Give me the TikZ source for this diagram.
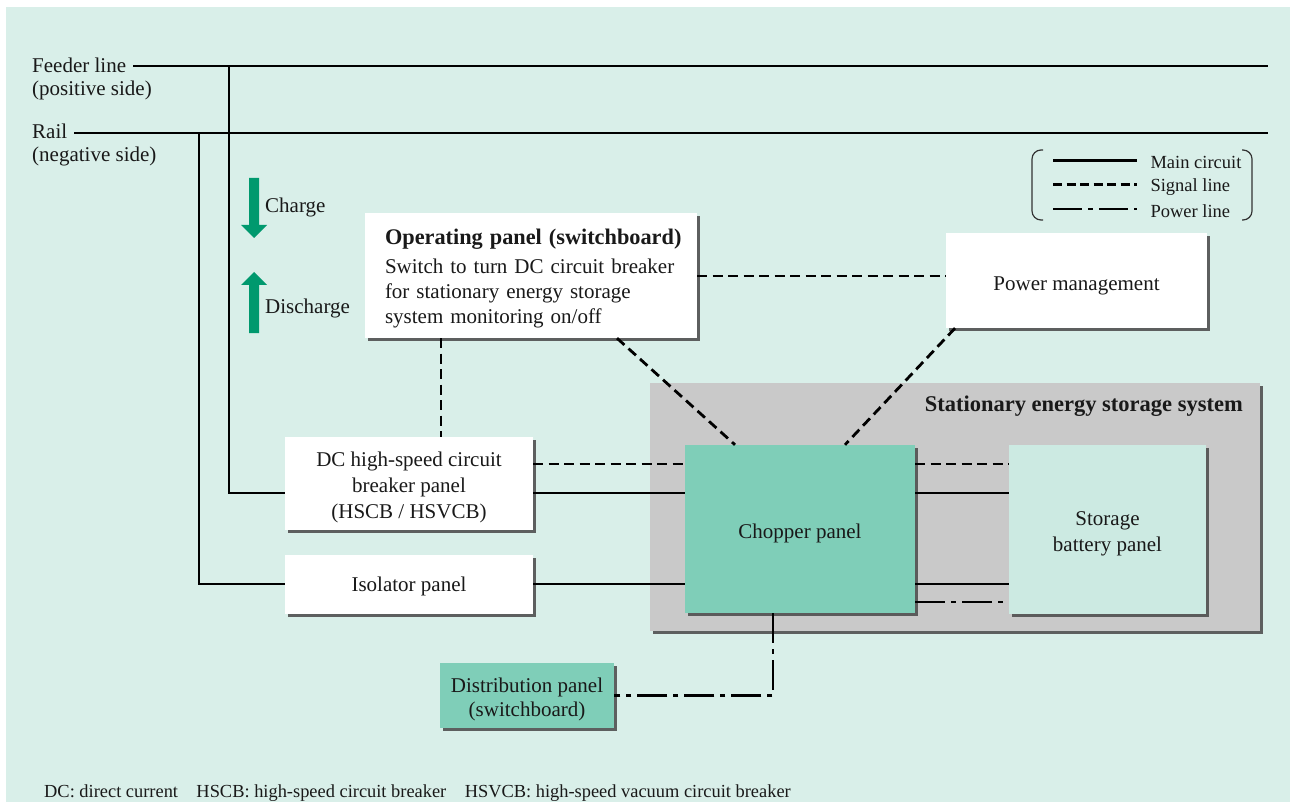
\documentclass[tikz,border=0pt]{standalone}
\usepackage{fontspec}
\setmainfont{Liberation Serif}
\usetikzlibrary{shadows,calc}
\definecolor{bgc}{HTML}{D9EFE9}
\definecolor{chopc}{HTML}{7FCEB8}
\definecolor{batc}{HTML}{CCEAE2}
\definecolor{grayc}{HTML}{C9C9C9}
\definecolor{arrc}{HTML}{00996E}
\definecolor{shc}{HTML}{505050}
\newcommand{\lowstrut}[1]{\rule{0pt}{#1}}
\begin{document}
\begin{tikzpicture}[x=1pt,y=-1pt,
  every node/.style={font=\fontsize{21}{25}\selectfont, text=black!90},
  panel/.style={draw=none, inner sep=0pt, align=center,
    drop shadow={shadow xshift=3pt, shadow yshift=-3pt, fill=shc, opacity=0.9}},
  main/.style={line width=2.8pt, black},
  sig/.style={line width=2.8pt, black, dash pattern=on 10pt off 5.5pt},
  pow/.style={line width=2.8pt, black, dash pattern=on 30pt off 6pt on 5pt off 6pt},
  legtxt/.style={font=\fontsize{18.5}{21}\selectfont, anchor=west},
  green arrow/.style={fill=arrc}
]
\useasboundingbox (0,0) rectangle (1290,802);
\fill[bgc] (6,7) rectangle (1290,802);

% labels of the lines
\node[anchor=base west, inner sep=0pt] (feedlbl) at (32,73) {Feeder line};
\node[anchor=base west, inner sep=0pt] (poslbl) at (32,96) {(positive side)};
\node[anchor=base west, inner sep=0pt] (raillbl) at (32,139) {Rail};
\node[anchor=base west, inner sep=0pt] (neglbl) at (32,162) {(negative side)};
\coordinate (feedA) at (133,66);
\coordinate (feedB) at (1268,66);
\coordinate (railA) at (74,133);
\coordinate (railB) at (1268,133);
\coordinate (tapF) at (229,66);
\coordinate (tapR) at (199,133);

% stationary energy storage system
\node[panel, fill=grayc, minimum width=610pt, minimum height=248pt] (sess) at (955,507) {};
\node[anchor=east, inner sep=0pt, font=\fontsize{22.5}{26}\selectfont\bfseries] (sesslbl) at (1243,406) {Stationary energy storage system};

% panels
\node[panel, fill=white, minimum width=332pt, minimum height=125pt, text width=292pt, inner xsep=20pt, align=left] (op) at (531,275.5)
  {\mbox{\lowstrut{22pt}\fontsize{22.3}{26}\selectfont\bfseries Operating panel (switchboard)}\\[4pt]Switch to turn DC circuit breaker\\for stationary energy storage\\system monitoring on/off};
\node[panel, fill=white, minimum width=261pt, minimum height=95pt] (pm) at (1076.5,280.5) {\lowstrut{24pt}Power management};
\node[panel, fill=chopc, minimum width=230pt, minimum height=168pt] (chop) at (800,529) {\lowstrut{23pt}Chopper panel};
\node[panel, fill=batc, minimum width=197pt, minimum height=169pt, font=\fontsize{21}{26}\selectfont] (bat) at (1107.5,529.5) {\lowstrut{22pt}Storage\\battery panel};
\node[panel, fill=white, minimum width=248pt, minimum height=93pt, font=\fontsize{21}{26}\selectfont] (hscb) at (409,483.5) {\lowstrut{23pt}DC high-speed circuit\\breaker panel\\(HSCB / HSVCB)};
\node[panel, fill=white, minimum width=248pt, minimum height=59pt] (iso) at (409,584.5) {\lowstrut{19pt}Isolator panel};
\node[panel, fill=chopc, minimum width=174pt, minimum height=65pt, font=\fontsize{21}{24}\selectfont] (dist) at (527,695.5) {\lowstrut{22pt}Distribution panel\\(switchboard)};

% main lines
\draw[main] (feedA) -- (feedB);
\draw[main] (railA) -- (railB);
\draw[main] (tapF) |- (hscb.west |- 0,493);
\draw[main] (tapR) |- (iso.west |- 0,584);
\draw[main] (hscb.east |- 0,493) -- (chop.west |- 0,493);
\draw[main] (iso.east |- 0,584) -- (chop.west |- 0,584);
\draw[main] (chop.east |- 0,493) -- (bat.west |- 0,493);
\draw[main] (chop.east |- 0,584) -- (bat.west |- 0,584);
% signal lines
\draw[sig] (hscb.east |- 0,464) -- (chop.west |- 0,464);
\draw[sig] (chop.east |- 0,464) -- (bat.west |- 0,464);
\draw[sig] (op.south -| 441,0) -- (hscb.north -| 441,0);
\draw[sig] (op.east |- 0,276) -- (pm.west |- 0,276);
\draw[sig] (op.south -| 617,0) -- (chop.north -| 735,0);
\draw[sig] (pm.south -| 955,0) -- (chop.north -| 845,0);
% power lines
\draw[pow] (chop.east |- 0,602) -- (bat.west |- 0,602);
\draw[pow] (chop.south -| 773,0) |- (dist.east);

% charge / discharge arrows
\fill[green arrow] (249,178) -- (259,178) -- (259,225) -- (267,225) -- (254,238) -- (241,225) -- (249,225) -- cycle;
\node[anchor=west, inner sep=0pt] (chg) at (265,207) {Charge};
\fill[green arrow] (249,333) -- (259,333) -- (259,285) -- (267,285) -- (254,272) -- (241,285) -- (249,285) -- cycle;
\node[anchor=west, inner sep=0pt] (dis) at (265,308) {Discharge};

% legend
\draw[line width=1.2pt, black!80, rounded corners=9pt] (1043,150) -- (1032,150) -- (1032,220) -- (1043,220);
\draw[line width=1.2pt, black!80, rounded corners=9pt] (1242,150) -- (1252,150) -- (1252,220) -- (1242,220);
\coordinate (l1a) at (1053,160.5); \coordinate (l1b) at (1137,160.5);
\coordinate (l2a) at (1053,184.5); \coordinate (l2b) at (1137,184.5);
\coordinate (l3a) at (1053,209); \coordinate (l3b) at (1137,209);
\draw[main] (l1a) -- (l1b);
\draw[line width=2.8pt, dash pattern=on 9pt off 4.5pt] (l2a) -- (l2b);
\draw[line width=2.8pt, dash pattern=on 29pt off 6pt on 5pt off 6pt] (l3a) -- (l3b);
\node[legtxt] (lt1) at (1147,162) {Main circuit};
\node[legtxt] (lt2) at (1147,187) {Signal line};
\node[legtxt] (lt3) at (1147,211) {Power line};

% footnote
\node[anchor=base west, inner sep=0pt, font=\fontsize{18.4}{21}\selectfont] (foot) at (44,797)
  {DC: direct current\quad HSCB: high-speed circuit breaker\quad HSVCB: high-speed vacuum circuit breaker};
\end{tikzpicture}
\end{document}
